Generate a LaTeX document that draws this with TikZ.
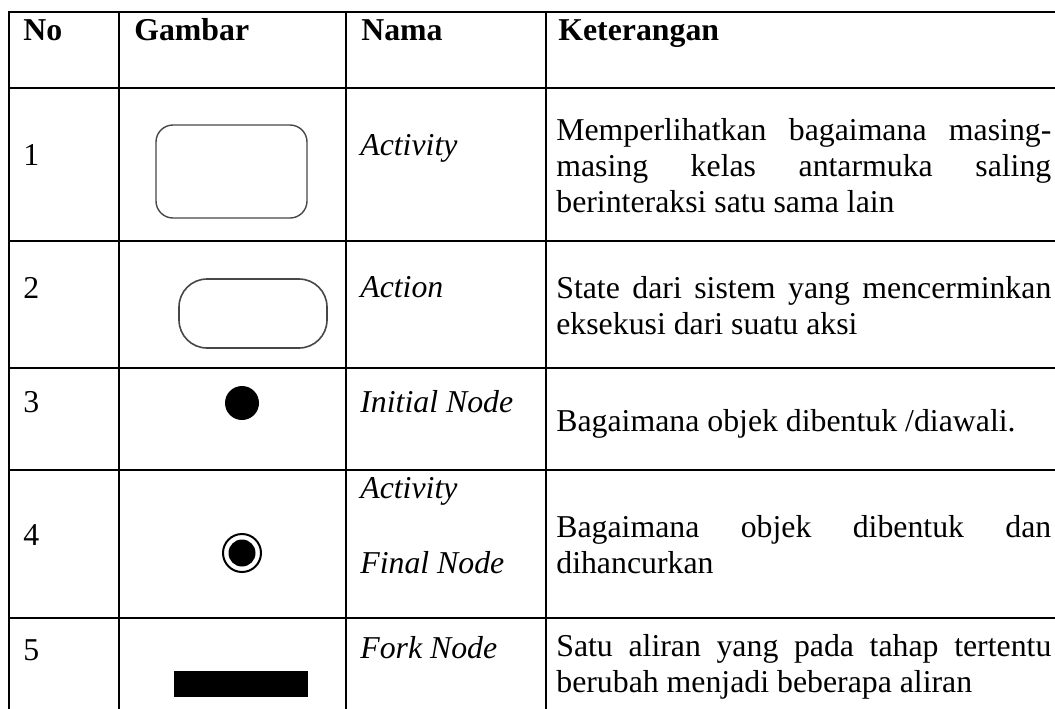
\documentclass[tikz,border=0pt]{standalone}
\usepackage{fontspec}
\setmainfont{Liberation Serif}
\hyphenpenalty=10000
\tolerance=9999

\begin{document}
\begin{tikzpicture}[x=0.5pt,y=-0.5pt,line width=1.35pt]
\tikzset{grid/.style={line width=1.35pt,draw=black,line cap=rect},
  txt/.style={inner sep=0pt,font=\fontsize{15.9}{18}\selectfont},
  head/.style={txt,anchor=base west,font=\fontsize{15.9}{18}\selectfont\bfseries},
  num/.style={txt,anchor=base west},
  namatxt/.style={txt,anchor=base west,font=\fontsize{15.9}{18}\selectfont\itshape},
  desc/.style={txt,anchor=north west,text width=247.5pt,align=justify},
  sym/.style={draw=black!72,line width=0.7pt}}
\useasboundingbox (0,0) rectangle (1055,708);
\clip (0,0) rectangle (1055,708);
% ---------- grid ----------
\foreach \y in {12,88,241,368,470,618}
  \draw[grid] (9,\y) -- (1070,\y);
\foreach \x in {9,119,346,546}
  \draw[grid] (\x,12) -- (\x,730);
% ---------- header ----------
\node[head] (hno) at (22,40) {No};
\node[head] (hgambar) at (133,40) {Gambar};
\node[head] (hnama) at (360,40) {Nama};
\node[head] (hket) at (557,40) {Keterangan};
% ---------- 1 activity ----------
\node[num] (no1) at (22,165) {1};
\draw[sym,rounded corners=8.5pt] (156,125) rectangle (307,218);
\node[namatxt] (nama1) at (359,155) {Activity};
\node[desc] (ket1) at (555,113.8) {\strut Memperlihatkan bagaimana masing-\linebreak
  masing kelas antarmuka saling\linebreak berinteraksi satu sama lain};
% ---------- 2 action ----------
\node[num] (no2) at (22,298) {2};
\draw[sym,line width=0.8pt,rounded corners=14pt] (179,279) rectangle (327,348);
\node[namatxt] (nama2) at (359,297) {Action};
\node[desc] (ket2) at (555,271.8) {\strut State dari sistem yang mencerminkan\linebreak
  eksekusi dari suatu aksi};
% ---------- 3 initial node ----------
\node[num] (no3) at (22,412) {3};
\fill (242,403) circle[radius=8.5pt];
\node[namatxt] (nama3) at (359,412) {Initial Node};
\node[desc] (ket3) at (555,404.8) {\strut Bagaimana objek dibentuk /diawali.};
% ---------- 4 final node ----------
\node[num] (no4) at (22,545) {4};
\draw[line width=1pt] (242,553) circle[radius=9.5pt];
\fill (242,553) circle[radius=6.75pt];
\node[namatxt] (nama4a) at (359,498) {Activity};
\node[namatxt] (nama4b) at (359,573) {Final Node};
\node[desc] (ket4) at (555,510.8) {\strut Bagaimana objek dibentuk dan\linebreak
  dihancurkan};
% ---------- 5 fork node ----------
\node[num] (no5) at (22,660) {5};
\fill (174,671) rectangle (308,697);
\node[namatxt] (nama5) at (359,658) {Fork Node};
\node[desc] (ket5) at (555,629.8) {\strut Satu aliran yang pada tahap tertentu\linebreak
  berubah menjadi beberapa aliran};
\end{tikzpicture}
\end{document}
